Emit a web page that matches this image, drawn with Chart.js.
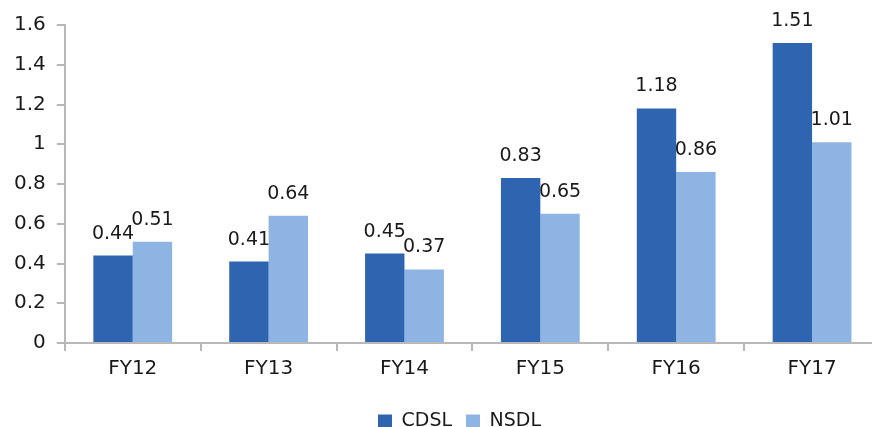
<!DOCTYPE html>
<html lang="en">
<head>
    <meta charset="UTF-8">
    <title>CDSL vs NSDL</title>
    <script src="https://cdn.jsdelivr.net/npm/chart.js"></script>
    <style>
        html, body {
            margin: 0;
            padding: 0;
            background: #fff;
            overflow: hidden;
        }
        /* plot runs a little past the right edge, as in the original */
        .chart-container {
            width: 880px;
            height: 427px;
        }
    </style>
</head>
<body>
    <div class="chart-container">
        <canvas id="barChart"></canvas>
    </div>

    <script>
        const categories = ['FY12', 'FY13', 'FY14', 'FY15', 'FY16', 'FY17'];
        const cdsl = [0.44, 0.41, 0.45, 0.83, 1.18, 1.51];
        const nsdl = [0.51, 0.64, 0.37, 0.65, 0.86, 1.01];
        const seriesNames = ['CDSL', 'NSDL'];

        const fontFamily = '"DejaVu Sans", sans-serif';
        const textColor = '#1a1a1a';
        const axisColor = '#b8b8b8';

        // values written above each bar
        const valueLabels = {
            id: 'valueLabels',
            afterDatasetsDraw(chart) {
                const ctx = chart.ctx;
                ctx.save();
                ctx.font = '19px ' + fontFamily;
                ctx.fillStyle = textColor;
                ctx.textAlign = 'center';
                ctx.textBaseline = 'alphabetic';
                chart.data.datasets.forEach((ds, i) => {
                    chart.getDatasetMeta(i).data.forEach((bar, j) => {
                        ctx.fillText(ds.data[j].toFixed(2), bar.x, bar.y - 17);
                    });
                });
                ctx.restore();
            }
        };

        // nudge the legend right so it sits under the middle of the plot
        const legendShift = {
            id: 'legendShift',
            afterLayout(chart) {
                chart.legend.left += 18;
                chart.legend.right += 18;
            }
        };

        let ctx = document.getElementById('barChart').getContext('2d');
        new Chart(ctx, {
            type: 'bar',
            data: {
                labels: categories,
                datasets: [{
                    label: seriesNames[0],
                    data: cdsl,
                    backgroundColor: '#2f65b0',
                    categoryPercentage: 0.58,
                    barPercentage: 1
                }, {
                    label: seriesNames[1],
                    data: nsdl,
                    backgroundColor: '#8eb4e3',
                    categoryPercentage: 0.58,
                    barPercentage: 1
                }]
            },
            options: {
                responsive: true,
                maintainAspectRatio: false,
                animation: false,
                layout: {
                    padding: { top: 25, left: 3, right: 0, bottom: -14 }
                },
                plugins: {
                    tooltip: { enabled: false },
                    legend: {
                        position: 'bottom',
                        labels: {
                            color: textColor,
                            font: { family: fontFamily, size: 19 },
                            boxWidth: 14,
                            boxHeight: 14,
                            padding: 14
                        }
                    }
                },
                scales: {
                    x: {
                        grid: {
                            display: true,
                            drawOnChartArea: false,
                            offset: true,
                            tickLength: 8,
                            color: axisColor,
                            lineWidth: 2
                        },
                        border: { color: axisColor, width: 2 },
                        ticks: {
                            color: textColor,
                            font: { family: fontFamily, size: 20 },
                            padding: 6
                        },
                        afterFit: s => { s.height += 11; }
                    },
                    y: {
                        min: 0,
                        max: 1.6,
                        grid: {
                            drawOnChartArea: false,
                            tickLength: 8,
                            color: axisColor,
                            lineWidth: 2
                        },
                        border: { color: axisColor, width: 2 },
                        ticks: {
                            stepSize: 0.2,
                            color: textColor,
                            font: { family: fontFamily, size: 20 },
                            padding: 11,
                            callback: v => Math.round(v * 10) / 10
                        }
                    }
                }
            },
            plugins: [valueLabels, legendShift]
        });
    </script>
</body>
</html>
